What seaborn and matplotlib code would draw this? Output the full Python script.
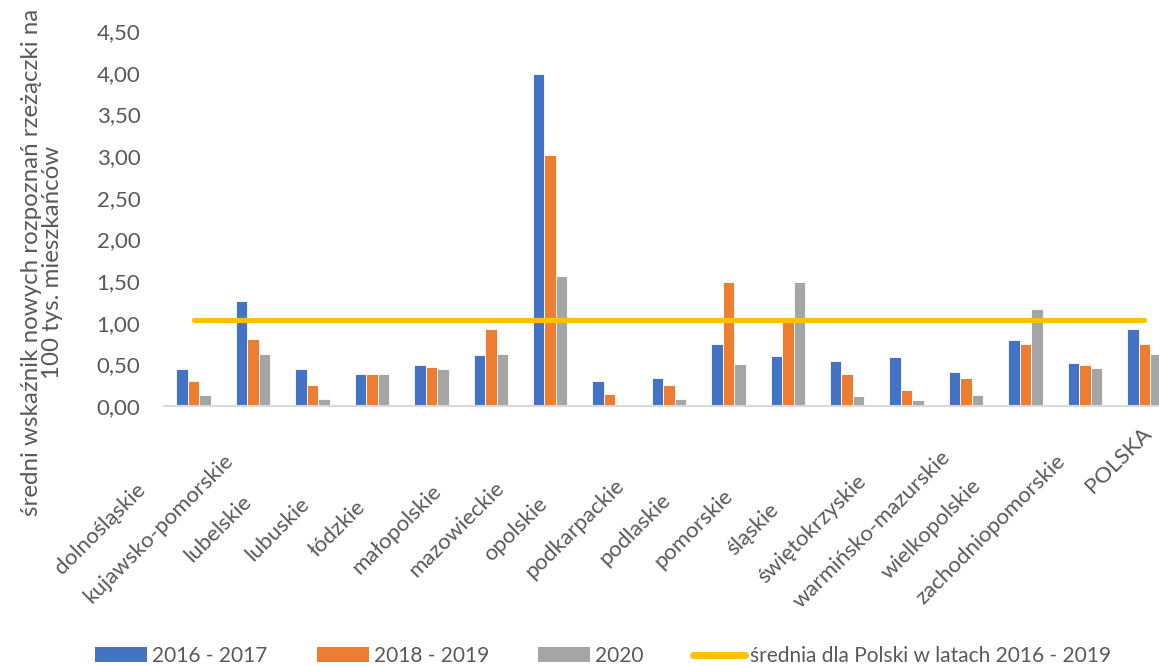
import matplotlib
matplotlib.use("Agg")
import matplotlib.pyplot as plt
import matplotlib.transforms as mtransforms
from matplotlib.patches import Patch
from matplotlib.lines import Line2D
import numpy as np
import pandas as pd
import seaborn as sns

# ---------------- data ----------------
categories = ["dolnośląskie", "kujawsko-pomorskie", "lubelskie", "lubuskie", "łódzkie",
              "małopolskie", "mazowieckie", "opolskie", "podkarpackie", "podlaskie",
              "pomorskie", "śląskie", "świętokrzyskie", "warmińsko-mazurskie",
              "wielkopolskie", "zachodniopomorskie", "POLSKA"]
series_names = ["2016 - 2017", "2018 - 2019", "2020"]
values_2016_2017 = [0.44, 1.26, 0.45, 0.39, 0.49, 0.61, 3.99, 0.30, 0.34, 0.75,
                    0.60, 0.54, 0.59, 0.41, 0.79, 0.52, 0.92]
values_2018_2019 = [0.30, 0.81, 0.25, 0.39, 0.47, 0.93, 3.01, 0.14, 0.25, 1.49,
                    1.02, 0.39, 0.19, 0.34, 0.74, 0.49, 0.75]
values_2020 = [0.13, 0.62, 0.08, 0.39, 0.44, 0.63, 1.56, 0.00, 0.08, 0.50,
               1.49, 0.12, 0.07, 0.13, 1.16, 0.46, 0.62]
average_label = "średnia dla Polski w latach 2016 - 2019"
average_value = 1.03
y_ticks = [0.0, 0.5, 1.0, 1.5, 2.0, 2.5, 3.0, 3.5, 4.0, 4.5]
y_label = "średni wskaźnik nowych rozpoznań rzeżączki na\n100 tys. mieszkańców"

colors = ["#4472C4", "#ED7D31", "#A5A5A5"]
line_color = "#FFC000"
text_color = "#595959"

# ---------------- build ----------------
df = pd.DataFrame({
    "kategoria": categories * 3,
    "okres": [series_names[0]] * len(categories) + [series_names[1]] * len(categories)
             + [series_names[2]] * len(categories),
    "wartosc": values_2016_2017 + values_2018_2019 + values_2020,
})

sns.set_style("white")
plt.rcParams["font.family"] = ["Lato", "DejaVu Sans"]
FS = 15
TICK_FS = 16
YLAB_FS = 17.4

W, H = 1159, 666
fig = plt.figure(figsize=(W / 100, H / 100), dpi=100)
ax_left, ax_right, ax_top, ax_bottom = 164, 1174, 31, 406
ax = fig.add_axes([ax_left / W, 1 - ax_bottom / H, (ax_right - ax_left) / W, (ax_bottom - ax_top) / H])

sns.barplot(data=df, x="kategoria", y="wartosc", hue="okres", order=categories,
            hue_order=series_names, palette=colors, width=0.58, saturation=1,
            edgecolor="white", linewidth=0.6, ax=ax, legend=False)

xpos = np.arange(len(categories))
ax.plot(xpos, [average_value] * len(categories), color=line_color, lw=3.8,
        solid_capstyle="round", zorder=5)

ax.set_xlim(-0.5, len(categories) - 0.5)
ax.set_ylim(0, 4.5)
ax.set_yticks(y_ticks)
ax.set_yticklabels([f"{v:.2f}".replace(".", ",") for v in y_ticks], fontsize=TICK_FS, color=text_color)
ax.set_xlabel("")
ax.set_ylabel("")
ax.tick_params(axis="y", length=0, pad=17)
ax.tick_params(axis="x", length=0, pad=0)

for s in ["left", "top", "right"]:
    ax.spines[s].set_visible(False)
ax.spines["bottom"].set_color("#D9D9D9")
ax.spines["bottom"].set_linewidth(1.5)
ax.grid(False)

ax.set_xticks(xpos)
labels = ax.set_xticklabels(categories, fontsize=TICK_FS, color=text_color, rotation=45,
                            ha="center", va="center", rotation_mode="default")
for i, lab in enumerate(labels):
    if i == len(labels) - 1:
        dx, dy = -26, -54
    else:
        dx, dy = -94, -123
    lab.set_transform(lab.get_transform() +
                      mtransforms.ScaledTranslation(dx / 100, dy / 100, fig.dpi_scale_trans))

fig.text(42 / W, 1 - 262 / H, y_label, rotation=90, rotation_mode="anchor",
         ha="center", va="center", multialignment="center", fontsize=YLAB_FS,
         color=text_color, linespacing=1.05)

handles = [Patch(facecolor=c, edgecolor="none") for c in colors]
handles.append(Line2D([0], [0], color=line_color, lw=5, solid_capstyle="round"))
leg = fig.legend(handles, series_names + [average_label], loc="center",
                 bbox_to_anchor=(603 / W, 1 - 656 / H), ncol=4, frameon=False,
                 fontsize=FS, handlelength=2.5, handleheight=0.7, handletextpad=0.25,
                 columnspacing=2.35, borderaxespad=0)
for t in leg.get_texts():
    t.set_color(text_color)

fig.savefig("out.png", dpi=100)
